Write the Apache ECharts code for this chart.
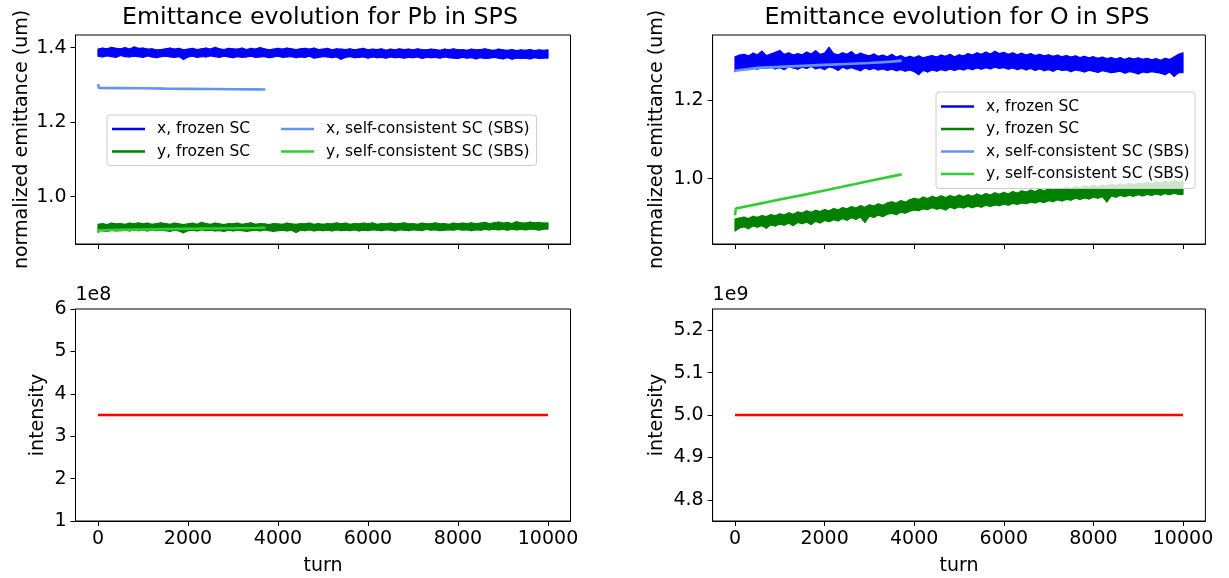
<!DOCTYPE html>
<html>
<head>
<meta charset="utf-8">
<script src="https://cdn.jsdelivr.net/npm/echarts@6/dist/echarts.min.js"></script>
<style>
  html, body { margin: 0; padding: 0; background: #fff; }
  #chart { width: 1229px; height: 578px; }
</style>
</head>
<body>
<div id="chart"></div>
<script>
// frozen SC runs are sampled every 50 turns (0 .. 10000)
const turns = [];
for (let t = 0; t <= 10000; t += 50) turns.push(t);

const xTicks = [0, 2000, 4000, 6000, 8000, 10000];

// Pb in SPS
const pbXFrozen = [
  1.396,1.377,1.399,1.375,1.397,1.378,1.401,1.376,1.398,1.374,
  1.397,1.379,1.400,1.376,1.396,1.375,1.402,1.377,1.398,1.376,
  1.399,1.374,1.396,1.378,1.397,1.375,1.394,1.373,1.395,1.376,
  1.397,1.377,1.399,1.375,1.396,1.374,1.398,1.376,1.394,1.368,
  1.396,1.375,1.398,1.377,1.395,1.374,1.397,1.376,1.399,1.375,
  1.396,1.378,1.401,1.376,1.397,1.374,1.395,1.377,1.398,1.375,
  1.397,1.373,1.396,1.376,1.399,1.374,1.395,1.375,1.398,1.377,
  1.396,1.374,1.400,1.375,1.397,1.376,1.394,1.373,1.396,1.375,
  1.398,1.377,1.396,1.374,1.399,1.375,1.397,1.376,1.395,1.373,
  1.397,1.375,1.398,1.374,1.396,1.377,1.399,1.372,1.395,1.374,
  1.396,1.376,1.398,1.375,1.394,1.373,1.397,1.375,1.396,1.369,
  1.395,1.374,1.397,1.376,1.394,1.373,1.396,1.374,1.398,1.375,
  1.394,1.372,1.396,1.375,1.395,1.373,1.397,1.374,1.393,1.372,
  1.396,1.375,1.394,1.373,1.397,1.374,1.395,1.372,1.396,1.374,
  1.394,1.373,1.397,1.375,1.395,1.371,1.394,1.374,1.396,1.373,
  1.395,1.374,1.393,1.372,1.396,1.375,1.394,1.373,1.397,1.372,
  1.394,1.371,1.395,1.374,1.393,1.372,1.396,1.373,1.394,1.370,
  1.395,1.373,1.397,1.371,1.394,1.372,1.393,1.374,1.396,1.372,
  1.394,1.370,1.393,1.373,1.395,1.369,1.392,1.372,1.394,1.371,
  1.393,1.372,1.395,1.370,1.392,1.373,1.394,1.371,1.393,1.372,
  1.394
];
const pbYFrozen = [
  0.926,0.908,0.928,0.909,0.925,0.907,0.929,0.910,0.927,0.908,
  0.928,0.909,0.926,0.911,0.929,0.908,0.927,0.910,0.930,0.909,
  0.927,0.910,0.929,0.908,0.926,0.911,0.928,0.909,0.930,0.910,
  0.928,0.909,0.926,0.907,0.929,0.910,0.927,0.908,0.925,0.903,
  0.927,0.909,0.929,0.910,0.926,0.908,0.931,0.911,0.928,0.909,
  0.926,0.910,0.929,0.908,0.927,0.909,0.925,0.907,0.928,0.910,
  0.927,0.908,0.929,0.910,0.926,0.909,0.928,0.907,0.930,0.909,
  0.926,0.910,0.928,0.908,0.927,0.911,0.925,0.909,0.928,0.907,
  0.927,0.909,0.926,0.910,0.929,0.908,0.927,0.910,0.926,0.904,
  0.928,0.910,0.927,0.909,0.929,0.911,0.926,0.908,0.928,0.910,
  0.926,0.909,0.928,0.910,0.927,0.908,0.930,0.911,0.927,0.909,
  0.929,0.910,0.926,0.909,0.928,0.911,0.927,0.908,0.929,0.910,
  0.927,0.909,0.930,0.911,0.926,0.910,0.928,0.909,0.927,0.911,
  0.929,0.910,0.927,0.908,0.928,0.911,0.930,0.910,0.927,0.909,
  0.928,0.911,0.926,0.910,0.929,0.909,0.927,0.912,0.928,0.910,
  0.930,0.911,0.927,0.909,0.928,0.910,0.926,0.911,0.929,0.910,
  0.927,0.912,0.929,0.910,0.928,0.911,0.930,0.909,0.927,0.911,
  0.929,0.910,0.931,0.912,0.928,0.911,0.930,0.913,0.932,0.911,
  0.929,0.912,0.931,0.910,0.928,0.913,0.933,0.911,0.930,0.912,
  0.929,0.911,0.932,0.913,0.930,0.912,0.931,0.910,0.929,0.913,
  0.930
];
// self-consistent SC run stops around turn 3720
const pbSbsTurns = [0, 20, 500, 1000, 1500, 2000, 2500, 3000, 3500, 3720];
const pbXSbs = [1.302, 1.292, 1.2915, 1.291, 1.290, 1.2895, 1.289, 1.2885, 1.288, 1.2878];
const pbYSbs = [0.903, 0.910, 0.911, 0.912, 0.913, 0.9138, 0.9145, 0.9152, 0.916, 0.9165];

// O in SPS
const oXFrozen = [
  1.312,1.274,1.316,1.283,1.318,1.281,1.314,1.279,1.321,1.284,
  1.317,1.280,1.326,1.286,1.315,1.282,1.319,1.285,1.323,1.281,
  1.328,1.284,1.318,1.279,1.322,1.286,1.316,1.283,1.320,1.280,
  1.317,1.285,1.324,1.282,1.319,1.287,1.327,1.281,1.318,1.284,
  1.321,1.279,1.336,1.286,1.320,1.283,1.317,1.277,1.322,1.285,
  1.318,1.281,1.325,1.284,1.316,1.280,1.321,1.276,1.317,1.283,
  1.314,1.279,1.319,1.282,1.313,1.278,1.316,1.281,1.312,1.277,
  1.318,1.280,1.311,1.276,1.315,1.279,1.309,1.275,1.313,1.278,
  1.310,1.274,1.314,1.266,1.309,1.277,1.312,1.273,1.315,1.278,
  1.311,1.275,1.316,1.279,1.313,1.276,1.318,1.280,1.312,1.277,
  1.317,1.281,1.314,1.278,1.320,1.282,1.316,1.279,1.322,1.283,
  1.318,1.280,1.324,1.284,1.319,1.281,1.326,1.285,1.320,1.282,
  1.323,1.284,1.318,1.280,1.322,1.283,1.317,1.279,1.321,1.282,
  1.316,1.278,1.320,1.282,1.315,1.277,1.318,1.281,1.314,1.276,
  1.317,1.279,1.313,1.275,1.316,1.280,1.312,1.277,1.315,1.278,
  1.311,1.274,1.314,1.278,1.310,1.276,1.313,1.273,1.309,1.277,
  1.312,1.275,1.308,1.272,1.311,1.276,1.307,1.274,1.310,1.271,
  1.306,1.273,1.310,1.275,1.305,1.270,1.309,1.274,1.306,1.272,
  1.309,1.268,1.305,1.273,1.308,1.271,1.304,1.274,1.307,1.272,
  1.303,1.270,1.308,1.266,1.305,1.273,1.311,1.262,1.318,1.271,
  1.322
];
const oYFrozen = [
  0.897,0.866,0.899,0.874,0.902,0.877,0.898,0.872,0.904,0.879,
  0.901,0.876,0.906,0.880,0.903,0.873,0.908,0.882,0.905,0.879,
  0.910,0.884,0.907,0.881,0.913,0.886,0.909,0.880,0.915,0.888,
  0.912,0.885,0.918,0.889,0.914,0.883,0.919,0.891,0.916,0.887,
  0.921,0.893,0.918,0.890,0.924,0.895,0.920,0.892,0.926,0.898,
  0.923,0.894,0.929,0.900,0.925,0.896,0.931,0.902,0.927,0.888,
  0.933,0.904,0.930,0.901,0.936,0.907,0.932,0.903,0.938,0.909,
  0.941,0.911,0.937,0.908,0.944,0.914,0.940,0.912,0.946,0.917,
  0.950,0.920,0.947,0.918,0.953,0.923,0.949,0.921,0.955,0.926,
  0.951,0.922,0.956,0.924,0.952,0.920,0.957,0.927,0.953,0.923,
  0.958,0.928,0.954,0.925,0.959,0.929,0.955,0.926,0.961,0.930,
  0.957,0.927,0.962,0.932,0.958,0.929,0.964,0.933,0.960,0.931,
  0.965,0.935,0.961,0.932,0.967,0.937,0.963,0.934,0.969,0.938,
  0.966,0.936,0.971,0.940,0.967,0.938,0.973,0.942,0.969,0.939,
  0.974,0.944,0.971,0.941,0.976,0.946,0.972,0.943,0.978,0.947,
  0.975,0.945,0.980,0.950,0.977,0.947,0.982,0.951,0.978,0.948,
  0.983,0.953,0.979,0.950,0.984,0.954,0.981,0.941,0.986,0.956,
  0.982,0.953,0.987,0.957,0.983,0.954,0.988,0.958,0.985,0.955,
  0.989,0.959,0.986,0.956,0.991,0.960,0.987,0.957,0.992,0.961,
  0.988,0.958,0.993,0.962,0.990,0.959,0.995,0.963,0.991,0.960,
  0.994
];
const oSbsTurns = [0, 20, 500, 1000, 1500, 2000, 2500, 3000, 3500, 3720];
const oXSbs = [1.276, 1.281, 1.2835, 1.286, 1.2885, 1.291, 1.2935, 1.296, 1.2995, 1.302];
const oYSbs = [0.906, 0.924, 0.935, 0.947, 0.958, 0.970, 0.982, 0.994, 1.006, 1.011];

// intensity (constant)
const intensityTurns = [0, 10000];
const pbIntensity = [3.5e8, 3.5e8];
const oIntensity = [5e9, 5e9];

const pbEmitTicks = [1.0, 1.2, 1.4];
const oEmitTicks = [1.0, 1.2];
const pbIntTicks = [1e8, 2e8, 3e8, 4e8, 5e8, 6e8];
const oIntTicks = [4.8e9, 4.9e9, 5.0e9, 5.1e9, 5.2e9];

const FONT = 'DejaVu Sans';
const names = ['x, frozen SC', 'y, frozen SC', 'x, self-consistent SC (SBS)', 'y, self-consistent SC (SBS)'];
const colors = ['#0000ff', '#008000', '#6495ed', '#32cd32'];

const chart = echarts.init(document.getElementById('chart'), null, { renderer: 'canvas' });

function pairs(xs, ys) {
  return ys.map(function (v, i) { return [xs[i], v]; });
}

function lineSeries(name, idx, data, color, width) {
  return {
    type: 'line', name: name, xAxisIndex: idx, yAxisIndex: idx,
    data: data, symbol: 'none', showSymbol: false, animation: false,
    lineStyle: { color: color, width: width },
    itemStyle: { color: color }
  };
}

// a 10000-turn noisy trace looks like a solid band: fill between
// consecutive low / high samples with one polygon per step
function noiseBand(name, idx, values, color) {
  const band = [];
  for (let k = 0; k < values.length; k += 2) {
    const a = values[k];
    const b = k + 1 < values.length ? values[k + 1] : values[k - 1];
    band.push([turns[k], Math.min(a, b), Math.max(a, b)]);
  }
  return {
    type: 'custom', name: name, xAxisIndex: idx, yAxisIndex: idx,
    data: band, clip: true, animation: false,
    encode: { x: 0, y: [1, 2] },
    itemStyle: { color: color },
    renderItem: function (params, api) {
      const i = params.dataIndex;
      if (i >= band.length - 1) return null;
      const p = band[i], q = band[i + 1];
      return {
        type: 'polygon',
        shape: { points: [api.coord([p[0], p[2]]), api.coord([q[0], q[2]]),
                          api.coord([q[0], q[1]]), api.coord([p[0], p[1]])] },
        style: { fill: color, stroke: color, lineWidth: 1.2, lineJoin: 'round' }
      };
    }
  };
}

function xAx(gi, labels) {
  return {
    type: 'value', gridIndex: gi, min: -500, max: 10500,
    axisLine: { show: true, onZero: false, lineStyle: { color: '#000', width: 1 } },
    axisTick: { show: true, customValues: xTicks, length: 5, lineStyle: { color: '#000' } },
    axisLabel: { show: labels, customValues: xTicks, formatter: function (v) { return String(v); },
      fontSize: 19, color: '#000', fontFamily: FONT, margin: 9 },
    splitLine: { show: false },
    name: labels ? 'turn' : '', nameLocation: 'middle', nameGap: 36,
    nameTextStyle: { fontSize: 19, color: '#000', fontFamily: FONT }
  };
}

function yAx(gi, min, max, ticks, fmt, name, gap) {
  return {
    type: 'value', gridIndex: gi, min: min, max: max,
    axisLine: { show: true, onZero: false, lineStyle: { color: '#000', width: 1 } },
    axisTick: { show: true, customValues: ticks, length: 5, lineStyle: { color: '#000' } },
    axisLabel: { customValues: ticks, formatter: fmt, fontSize: 19, color: '#000', fontFamily: FONT, margin: 9 },
    splitLine: { show: false },
    name: name, nameLocation: 'middle', nameRotate: 90, nameGap: gap,
    nameTextStyle: { fontSize: 19, color: '#000', fontFamily: FONT }
  };
}

const legendText = { fontSize: 15.5, color: '#000', fontFamily: FONT, lineHeight: 16, padding: [0, 0, 0, 7] };
const legendBase = {
  orient: 'vertical', icon: 'rect', itemWidth: 33, itemHeight: 2.5, itemGap: 6.5,
  selectedMode: false, textStyle: legendText
};

const option = {
  backgroundColor: '#fff',
  animation: false,
  title: [
    { text: 'Emittance evolution for Pb in SPS', left: 320, top: 6, textAlign: 'center', padding: 0,
      textStyle: { fontSize: 23.7, fontWeight: 'normal', color: '#000', fontFamily: FONT } },
    { text: 'Emittance evolution for O in SPS', left: 957, top: 6, textAlign: 'center', padding: 0,
      textStyle: { fontSize: 23.7, fontWeight: 'normal', color: '#000', fontFamily: FONT } },
    { text: '1e8', left: 75.5, top: 286, padding: 0,
      textStyle: { fontSize: 19, fontWeight: 'normal', color: '#000', fontFamily: FONT } },
    { text: '1e9', left: 712.6, top: 286, padding: 0,
      textStyle: { fontSize: 19, fontWeight: 'normal', color: '#000', fontFamily: FONT } }
  ],
  grid: [
    { left: 75.5, top: 35, width: 495, height: 209, show: true, borderColor: '#000', borderWidth: 1 },
    { left: 712.6, top: 35, width: 492.8, height: 209, show: true, borderColor: '#000', borderWidth: 1 },
    { left: 75.5, top: 309, width: 495, height: 212, show: true, borderColor: '#000', borderWidth: 1 },
    { left: 712.6, top: 309, width: 492.8, height: 212, show: true, borderColor: '#000', borderWidth: 1 }
  ],
  xAxis: [xAx(0, false), xAx(1, false), xAx(2, true), xAx(3, true)],
  yAxis: [
    yAx(0, 0.873, 1.434, pbEmitTicks, function (v) { return v.toFixed(1); }, 'normalized emittance (um)', 44),
    yAx(1, 0.833, 1.3675, oEmitTicks, function (v) { return v.toFixed(1); }, 'normalized emittance (um)', 46),
    yAx(2, 1e8, 6e8, pbIntTicks, function (v) { return String(Math.round(v / 1e8)); }, 'intensity', 28),
    yAx(3, 4.75e9, 5.25e9, oIntTicks, function (v) { return (v / 1e9).toFixed(1); }, 'intensity', 46)
  ],
  legend: [
    Object.assign({}, legendBase, {
      left: 107, top: 115, padding: [6, 286.5, 6, 5], data: [names[0], names[1]],
      backgroundColor: 'rgba(255,255,255,0.8)', borderColor: '#cccccc', borderWidth: 1, borderRadius: 3
    }),
    Object.assign({}, legendBase, {
      left: 281, top: 121, padding: 0, z: 5, data: [names[2], names[3]]
    }),
    Object.assign({}, legendBase, {
      left: 936, top: 92, padding: [6.5, 5.5, 6.5, 5], data: names,
      backgroundColor: 'rgba(255,255,255,0.8)', borderColor: '#cccccc', borderWidth: 1, borderRadius: 3
    })
  ],
  series: [
    noiseBand(names[0], 0, pbXFrozen, colors[0]),
    noiseBand(names[1], 0, pbYFrozen, colors[1]),
    lineSeries(names[2], 0, pairs(pbSbsTurns, pbXSbs), colors[2], 2.6),
    lineSeries(names[3], 0, pairs(pbSbsTurns, pbYSbs), colors[3], 2.6),
    noiseBand(names[0], 1, oXFrozen, colors[0]),
    noiseBand(names[1], 1, oYFrozen, colors[1]),
    lineSeries(names[2], 1, pairs(oSbsTurns, oXSbs), colors[2], 2.6),
    lineSeries(names[3], 1, pairs(oSbsTurns, oYSbs), colors[3], 2.6),
    lineSeries('pb intensity', 2, pairs(intensityTurns, pbIntensity), '#ff0000', 2.6),
    lineSeries('o intensity', 3, pairs(intensityTurns, oIntensity), '#ff0000', 2.6)
  ]
};

chart.setOption(option);
</script>
</body>
</html>
